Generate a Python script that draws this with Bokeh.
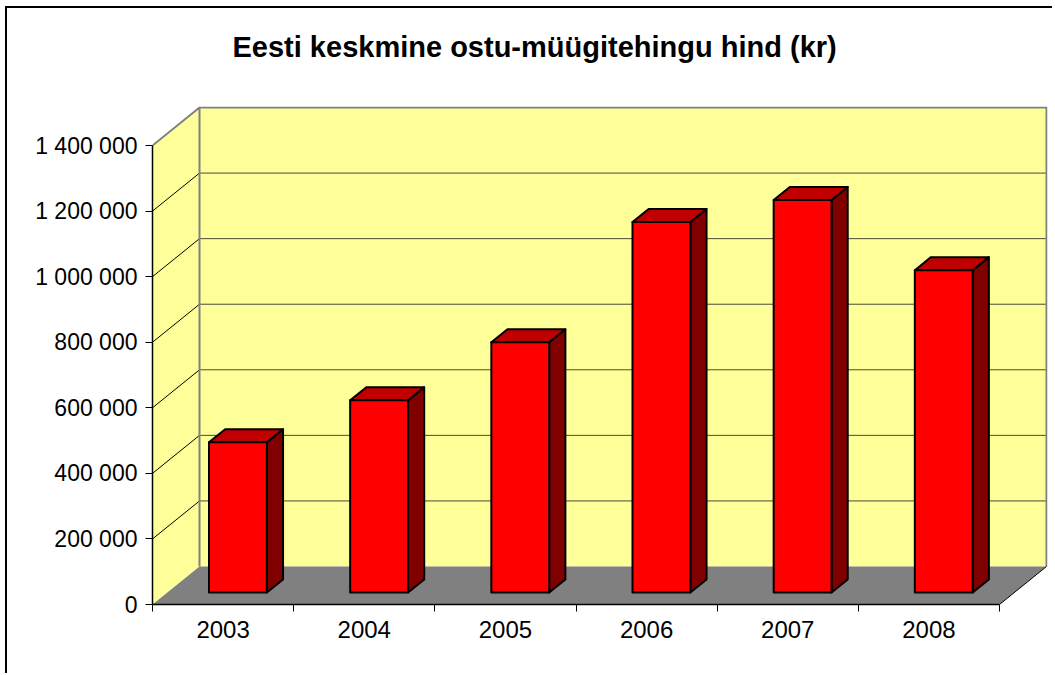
from bokeh.plotting import figure
from bokeh.models import ColumnDataSource, Range1d, LinearAxis, FixedTicker, Title
from bokeh.embed import file_html
from bokeh.resources import INLINE

# ---- data ----
years = ["2003", "2004", "2005", "2006", "2007", "2008"]
prices = [458000, 586000, 763000, 1130000, 1197000, 983000]
y_ticks = [0, 200000, 400000, 600000, 800000, 1000000, 1200000, 1400000]
title_text = "Eesti keskmine ostu-müügitehingu hind (kr)"

# ---- 3D projection style parameters ----
DEPTH_X = 0.333      # depth offset in category units
DEPTH_Y = 115900     # depth offset in value units
BAR_W = 0.41
F0 = 0.316           # bar front depth fraction
F1 = 0.66            # bar back depth fraction
FONT = "Liberation Sans"

n = len(years)
y_top = y_ticks[-1]

p = figure(width=1047, height=667, output_backend="svg", toolbar_location=None,
           x_range=Range1d(0, n + 0.34), y_range=Range1d(0, 1519000),
           x_axis_type=None, y_axis_type=None,
           min_border_left=145, min_border_right=7, min_border_top=98, min_border_bottom=71)
p.outline_line_color = None
p.background_fill_color = "white"
p.border_fill_color = "white"
p.styles = {"margin-left": "5px", "margin-top": "6px",
            "border-left": "2px solid black", "border-top": "2px solid black"}

# walls
walls = ColumnDataSource(dict(
    xs=[[DEPTH_X, n + DEPTH_X, n + DEPTH_X, DEPTH_X], [0, DEPTH_X, DEPTH_X, 0]],
    ys=[[DEPTH_Y, DEPTH_Y, y_top + DEPTH_Y, y_top + DEPTH_Y], [0, DEPTH_Y, y_top + DEPTH_Y, y_top]],
))
p.patches("xs", "ys", source=walls, fill_color="#FFFF99", line_color=None)

# floor
p.patch([0, n, n + DEPTH_X, DEPTH_X], [0, 0, DEPTH_Y, DEPTH_Y], fill_color="#808080", line_color=None)

# gridlines on back wall and left wall
grid_vals = y_ticks[1:-1]
p.segment(x0=[DEPTH_X] * len(grid_vals), y0=[v + DEPTH_Y for v in grid_vals],
          x1=[n + DEPTH_X] * len(grid_vals), y1=[v + DEPTH_Y for v in grid_vals],
          line_color="#4a4a3a", line_width=1)
p.segment(x0=[0] * len(grid_vals), y0=grid_vals,
          x1=[DEPTH_X] * len(grid_vals), y1=[v + DEPTH_Y for v in grid_vals],
          line_color="black", line_width=1)

# wall edges
p.multi_line(xs=[[0, DEPTH_X, n + DEPTH_X, n + DEPTH_X], [DEPTH_X, DEPTH_X]],
             ys=[[y_top, y_top + DEPTH_Y, y_top + DEPTH_Y, DEPTH_Y], [DEPTH_Y, y_top + DEPTH_Y]],
             line_color="#808080", line_width=2)
p.line([n, n + DEPTH_X], [0, DEPTH_Y], line_color="black", line_width=1)

# bars
d = F1 - F0
fx, fy, sx, sy, tx, ty = [], [], [], [], [], []
for i, v in enumerate(prices):
    x0 = i + 0.5 - BAR_W / 2 + F0 * DEPTH_X
    x1 = x0 + BAR_W
    y0 = F0 * DEPTH_Y
    y1 = v + F0 * DEPTH_Y
    ddx, ddy = d * DEPTH_X, d * DEPTH_Y
    fx.append([x0, x1, x1, x0]); fy.append([y0, y0, y1, y1])
    sx.append([x1, x1 + ddx, x1 + ddx, x1]); sy.append([y0, y0 + ddy, y1 + ddy, y1])
    tx.append([x0, x1, x1 + ddx, x0 + ddx]); ty.append([y1, y1, y1 + ddy, y1 + ddy])

p.patches(sx, sy, fill_color="#800000", line_color="black", line_width=2, line_join="round")
p.patches(tx, ty, fill_color="#C00000", line_color="black", line_width=2, line_join="round")
p.patches(fx, fy, fill_color="#FF0000", line_color="black", line_width=2, line_join="round")

# y axis
yax = LinearAxis(ticker=FixedTicker(ticks=y_ticks), bounds=(0, y_top))
yax.major_label_overrides = {v: f"{v:,}".replace(",", " ") for v in y_ticks}
yax.major_tick_out = 7
yax.major_tick_in = 0
yax.minor_tick_out = 0
yax.minor_tick_in = 0
yax.axis_line_color = "black"
yax.axis_line_width = 1.5
yax.major_tick_line_color = "black"
yax.major_label_standoff = 8
yax.major_label_text_font = FONT
yax.major_label_text_font_size = "23px"
yax.major_label_text_color = "black"
p.add_layout(yax, "left")

# x axis: boundary ticks
xt = LinearAxis(ticker=FixedTicker(ticks=list(range(n + 1))), bounds=(0, n))
xt.major_label_overrides = {i: "" for i in range(n + 1)}
xt.major_label_text_font_size = "0px"
xt.major_label_standoff = 0
xt.major_tick_out = 7
xt.major_tick_in = 0
xt.minor_tick_out = 0
xt.minor_tick_in = 0
xt.axis_line_color = "black"
xt.axis_line_width = 1.5
xt.major_tick_line_color = "black"
p.add_layout(xt, "below")

# x axis: category labels
centers = [i + 0.5 for i in range(n)]
xl = LinearAxis(ticker=FixedTicker(ticks=centers))
xl.major_label_overrides = {c: y for c, y in zip(centers, years)}
xl.axis_line_color = None
xl.major_tick_line_color = None
xl.minor_tick_line_color = None
xl.major_tick_out = 0
xl.major_tick_in = 0
xl.minor_tick_out = 0
xl.minor_tick_in = 0
xl.major_label_standoff = 9
xl.major_label_text_font = FONT
xl.major_label_text_font_size = "24px"
xl.major_label_text_color = "black"
p.add_layout(xl, "below")

# spacer between plot area and title, then the title
p.add_layout(Title(text=" ", standoff=5, text_font=FONT, text_font_size="29px"), "above")
p.add_layout(Title(text=title_text, align="left", offset=80, standoff=10,
                   text_font=FONT, text_font_size="29px", text_font_style="bold",
                   text_color="black"), "above")

open("out.html", "w").write(file_html(p, INLINE))
